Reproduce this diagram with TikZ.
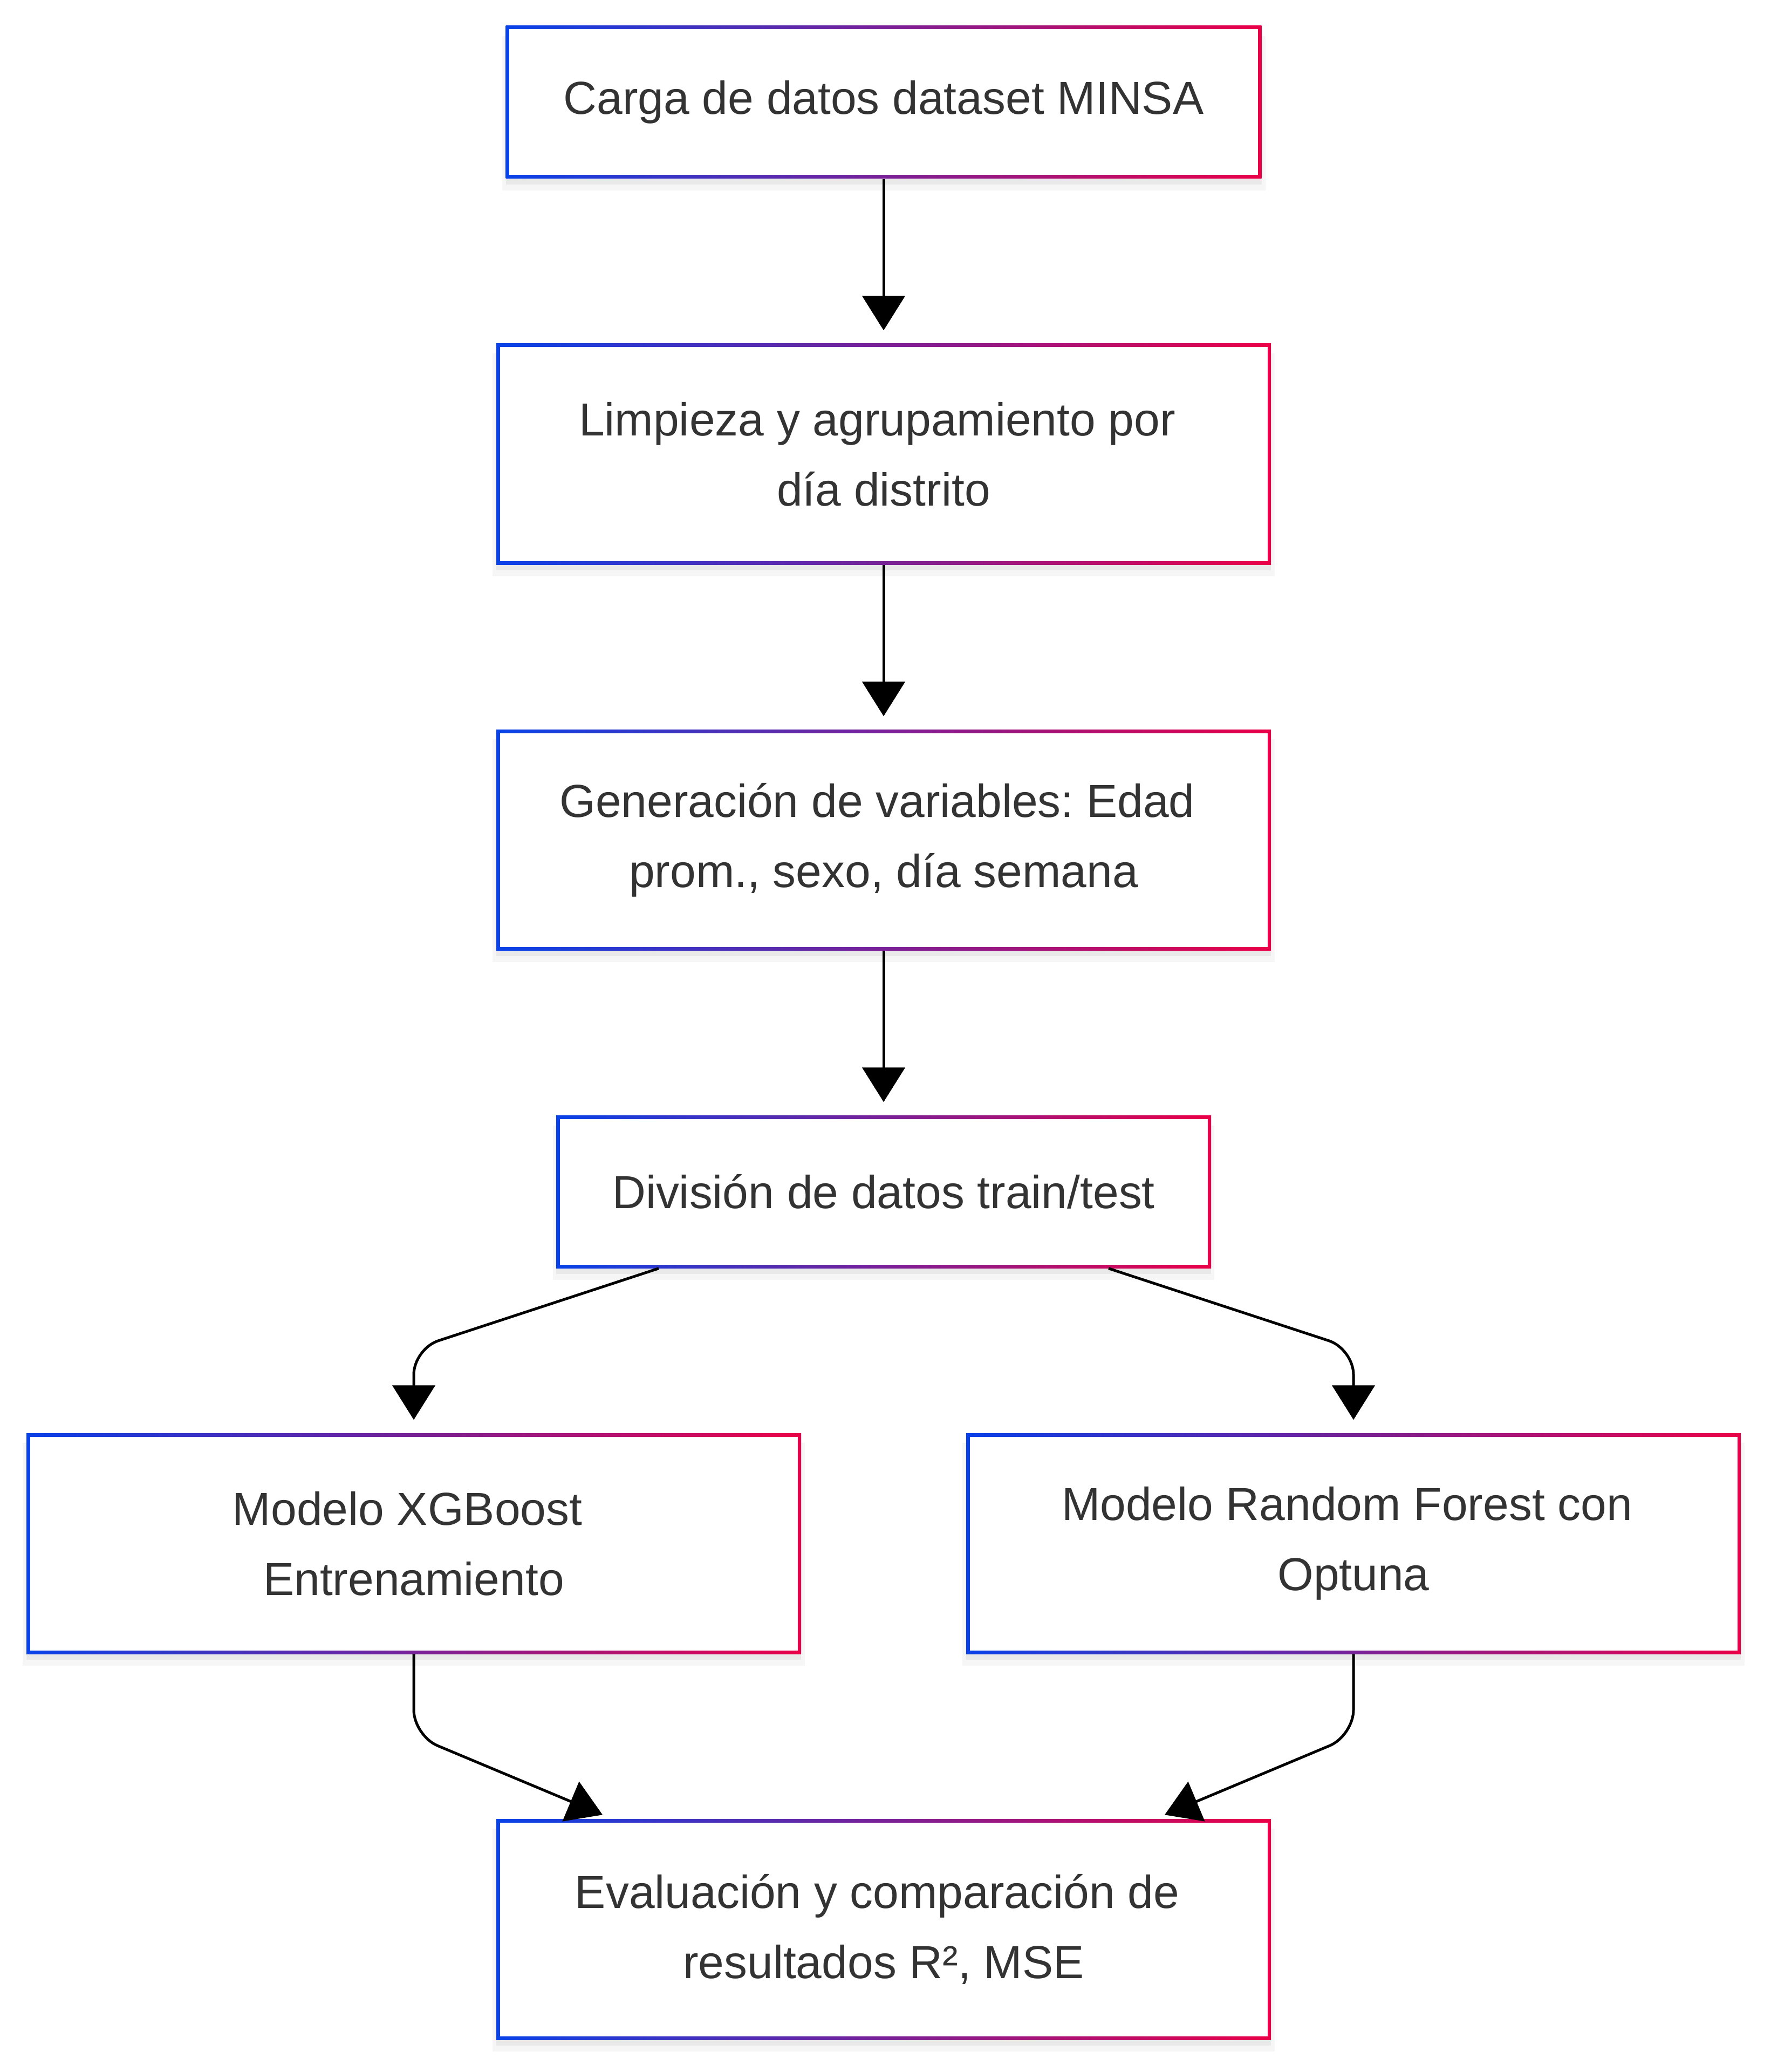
\documentclass[tikz,border=0pt]{standalone}
\usepackage{fontspec}
\setmainfont{Liberation Sans}
\usepackage{xcolor}
\usepackage{tikz}
\usetikzlibrary{arrows.meta, shadows}
\definecolor{edgeblue}{RGB}{8,66,232}
\definecolor{edgepink}{RGB}{234,0,72}
\definecolor{labelgray}{RGB}{51,51,51}
\newcommand{\boxfont}{\fontsize{24.4pt}{37pt}\selectfont}
\frenchspacing

\begin{document}
\begin{tikzpicture}[
    stage/.style={rectangle, fill=white, text=labelgray, font=\boxfont, align=center, inner sep=0pt,
        minimum width=14.36cm, minimum height=4.09cm,
        general shadow={fill=black, opacity=0.035, shadow yshift=-0.2cm, shadow scale=1.01},
        general shadow={fill=black, opacity=0.05, shadow yshift=-0.11cm},
        path picture={
            \shade[left color=edgeblue, right color=edgepink]
                (path picture bounding box.south west) rectangle (path picture bounding box.north east);
            \fill[white] ([shift={(0.065,0.065)}]path picture bounding box.south west)
                rectangle ([shift={(-0.065,-0.065)}]path picture bounding box.north east);
        }},
    single/.style={minimum height=2.83cm},
    arrow/.style={-{Triangle[length=0.64cm, width=0.79cm]}, line width=0.05cm, black, shorten >=0.24cm, rounded corners=0.48cm}
]
    \useasboundingbox (0,0) rectangle (32.83,-38.40);

    % Loading
    \node[stage, single, minimum width=14.01cm] (carga) at (16.38, -1.895) {Carga de datos dataset MINSA};

    % Cleaning
    \node[stage] (limpieza) at (16.38, -8.415) {Limpieza y agrupamiento por\hphantom{\ }\\día distrito};

    % Features
    \node[stage] (generacion) at (16.38, -15.565) {Generación de variables: Edad\hphantom{\ }\\prom., sexo, día semana};

    % Split
    \node[stage, single, minimum width=12.14cm] (division) at (16.38, -22.085) {División de datos train/test};

    % Models
    \node[stage] (xgboost) at (7.67, -28.605) {Modelo XGBoost\hphantom{\ }\\Entrenamiento};
    \node[stage] (forest) at (25.09, -28.605) {Modelo Random Forest con\hphantom{\ }\\Optuna};

    % Evaluation
    \node[stage] (evaluacion) at (16.38, -35.755) {Evaluación y comparación de\hphantom{\ }\\resultados R², MSE};

    % Arrows
    \draw[arrow] (carga) -- (limpieza);
    \draw[arrow] (limpieza) -- (generacion);
    \draw[arrow] (generacion) -- (division);

    % Fork
    \coordinate (forkL) at ([xshift=-4.17cm, yshift=-1.49cm]division.south);
    \coordinate (forkR) at ([xshift=4.17cm, yshift=-1.49cm]division.south);
    \draw[arrow] ([xshift=-4.17cm]division.south) -- (forkL -| xgboost.north) -- (xgboost.north);
    \draw[arrow] ([xshift=4.17cm]division.south) -- (forkR -| forest.north) -- (forest.north);

    % Join
    \draw[arrow, shorten >=0pt] (xgboost.south) -- ([yshift=-1.51cm]xgboost.south) -- ([shift={(-5.21,0.07)}]evaluacion.north);
    \draw[arrow, shorten >=0pt] (forest.south) -- ([yshift=-1.51cm]forest.south) -- ([shift={(5.21,0.07)}]evaluacion.north);
\end{tikzpicture}
\end{document}
